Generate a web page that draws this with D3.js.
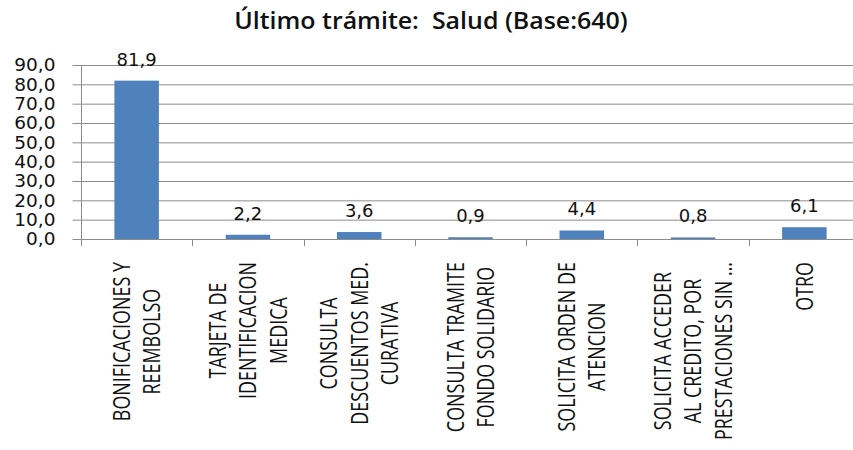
<!DOCTYPE html>
<html>
<head>
<meta charset="utf-8">
<script src="https://cdn.jsdelivr.net/npm/d3@7"></script>
<style>
  html, body { margin: 0; padding: 0; background: #fff; }
  svg { display: block; }
</style>
</head>
<body>
<div id="chart"></div>
<script>
// data
const categories = [
    ["BONIFICACIONES Y", "REEMBOLSO"],
    ["TARJETA DE", "IDENTIFICACION", "MEDICA"],
    ["CONSULTA", "DESCUENTOS MED.", "CURATIVA"],
    ["CONSULTA TRAMITE", "FONDO SOLIDARIO"],
    ["SOLICITA ORDEN DE", "ATENCION"],
    ["SOLICITA ACCEDER", "AL CREDITO, POR", "PRESTACIONES SIN …"],
    ["OTRO"]
]
const values = [81.9, 2.2, 3.6, 0.9, 4.4, 0.8, 6.1]
const yTicks = [0, 10, 20, 30, 40, 50, 60, 70, 80, 90]
const title = "Último trámite:  Salud (Base:640)"

const W = 853, H = 450
const plot = { left: 81, right: 860, top: 65, bottom: 239 }
const comma = d3.format(".1f")
const fmt = v => comma(v).replace(".", ",")

const svg = d3.select("#chart").append("svg").attr("width", W).attr("height", H)

const x = d3.scaleBand().domain(d3.range(values.length))
    .range([plot.left, plot.right]).paddingInner(0.6).paddingOuter(0.3)
const y = d3.scaleLinear().domain([0, 90]).range([plot.bottom, plot.top])
const step = x.step()

// title
svg.append("text").attr("x", 431).attr("y", 29).attr("text-anchor", "middle")
    .style("white-space", "pre")
    .style("font-family", "'Open Sans', sans-serif").style("font-weight", "600")
    .style("font-size", "24px").attr("transform", "translate(431,0) scale(1.04,1) translate(-431,0)")
    .attr("fill", "#111").text(title)

// gridlines
svg.append("g").selectAll("line").data(yTicks.filter(d => d > 0)).join("line")
    .attr("x1", plot.left).attr("x2", W).attr("y1", d => y(d) + 0.5).attr("y2", d => y(d) + 0.5)
    .attr("stroke", "#8c8c8c").attr("stroke-width", 1)

// y axis
const yAxis = svg.append("g").attr("transform", `translate(${plot.left + 0.5},0)`)
    .call(d3.axisLeft(y).tickValues(yTicks).tickFormat(fmt).tickSize(9).tickPadding(17))
yAxis.select(".domain").attr("stroke", "#8c8c8c").attr("d", `M0,${plot.top}V${plot.bottom}`)
yAxis.selectAll(".tick line").attr("stroke", "#8c8c8c")
yAxis.selectAll(".tick text").style("font-family", "'DejaVu Sans', sans-serif")
    .style("font-size", "18.5px").attr("fill", "#111")

// x axis line + category boundary ticks
svg.append("line").attr("x1", plot.left).attr("x2", W)
    .attr("y1", plot.bottom + 0.5).attr("y2", plot.bottom + 0.5).attr("stroke", "#8c8c8c")
svg.append("g").selectAll("line").data(d3.range(values.length + 1)).join("line")
    .attr("x1", i => Math.round(plot.left + i * step) + 0.5).attr("x2", i => Math.round(plot.left + i * step) + 0.5)
    .attr("y1", plot.bottom).attr("y2", plot.bottom + 7).attr("stroke", "#8c8c8c")

// bars
svg.append("g").selectAll("rect").data(values).join("rect")
    .attr("x", (d, i) => x(i)).attr("width", x.bandwidth())
    .attr("y", d => y(d)).attr("height", d => y(0) - y(d))
    .attr("fill", "#4F81BD")

// value labels
svg.append("g").selectAll("text").data(values).join("text")
    .attr("x", (d, i) => x(i) + x.bandwidth() / 2).attr("y", d => y(d) - 15)
    .attr("text-anchor", "middle")
    .style("font-family", "'DejaVu Sans', sans-serif").style("font-size", "18px")
    .attr("fill", "#111").text(fmt)

// category labels, rotated, lines centred, block starting at the top
const labelTop = 262, lineGap = 30.5, squeeze = 0.78
const cat = svg.append("g").selectAll("g").data(categories).join("g")
cat.each(function (lines, i) {
    const g = d3.select(this)
    const cx = x(i) + x.bandwidth() / 2
    const texts = lines.map(t => g.append("text")
        .attr("text-anchor", "middle").attr("dy", "0.36em")
        .style("font-family", "'Open Sans', sans-serif").style("font-size", "23px")
        .attr("fill", "#111").text(t))
    const maxLen = d3.max(texts, t => t.node().getComputedTextLength()) * squeeze
    const cy = labelTop + maxLen / 2
    texts.forEach((t, k) => {
        const lx = cx + (k - (lines.length - 1) / 2) * lineGap
        t.attr("transform", `translate(${lx},${cy}) rotate(-90) scale(${squeeze},1)`)
    })
})
</script>
</body>
</html>
